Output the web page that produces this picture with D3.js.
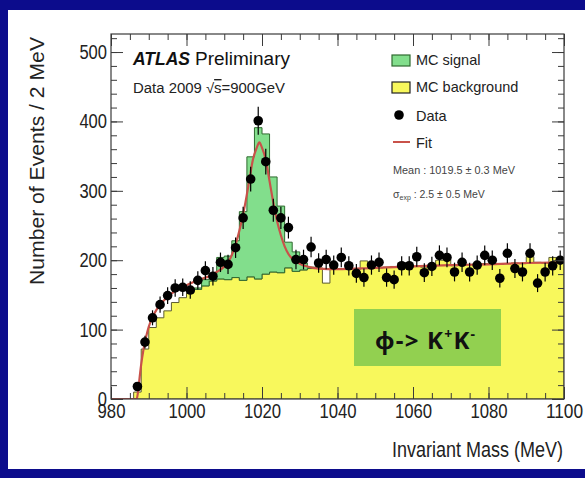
<!DOCTYPE html>
<html>
<head>
<meta charset="utf-8">
<script src="https://cdn.jsdelivr.net/npm/d3@7"></script>
<style>
  body { margin: 0; background: #fff; }
  svg { display: block; }
  text { font-family: "Liberation Sans", Arial, Helvetica, sans-serif; }
</style>
</head>
<body>
<svg id="chart" width="585" height="478"></svg>
<script>
// ---- histogram bins (2 MeV wide, bin centres in MeV) ----
const binCenters = [981, 983, 985, 987, 989, 991, 993, 995, 997, 999,
  1001, 1003, 1005, 1007, 1009, 1011, 1013, 1015, 1017, 1019,
  1021, 1023, 1025, 1027, 1029, 1031, 1033, 1035, 1037, 1039,
  1041, 1043, 1045, 1047, 1049, 1051, 1053, 1055, 1057, 1059,
  1061, 1063, 1065, 1067, 1069, 1071, 1073, 1075, 1077, 1079,
  1081, 1083, 1085, 1087, 1089, 1091, 1093, 1095, 1097, 1099];

// observed events per bin
const dataCounts = [0, 0, 0, 18, 82, 117, 136, 149, 160, 161,
  157, 171, 185, 177, 197, 194, 218, 261, 317, 401,
  342, 272, 261, 247, 201, 201, 219, 196, 201, 193,
  204, 192, 181, 175, 193, 197, 175, 172, 192, 192,
  205, 182, 191, 207, 204, 183, 197, 183, 193, 207,
  200, 174, 210, 188, 183, 210, 167, 183, 192, 200];

// MC background per bin
const bkgCounts = [0, 0, 0, 10, 72, 103, 117, 127, 139, 146,
  153, 158, 163, 170, 173, 172, 175, 171, 176, 173,
  180, 183, 182, 189, 184, 186, 188, 189, 167, 190,
  188, 189, 186, 199, 188, 189, 190, 191, 196, 194,
  191, 190, 193, 200, 201, 192, 193, 194, 191, 195,
  195, 194, 195, 196, 195, 205, 197, 196, 204, 203];

// MC signal per bin (stacked on the background)
const sigCounts = [0, 0, 0, 0, 0, 0, 0, 0, 0, 0,
  0, 2, 9, 10, 31, 34, 53, 99, 173, 218,
  202, 137, 96, 37, 28, 10, 2, 0, 0, 0,
  0, 0, 0, 0, 0, 0, 0, 0, 0, 0,
  0, 0, 0, 0, 0, 0, 0, 0, 0, 0,
  0, 0, 0, 0, 0, 0, 0, 0, 0, 0];

// fitted curve (mass in MeV, events / 2 MeV)
const fitMass = [980, 986.8, 987.2, 987.6, 988, 988.5, 989, 989.5, 990, 991, 992, 993, 994,
  996, 998, 1000, 1002, 1004, 1006, 1008, 1009.6, 1010.6, 1011.6, 1012.6, 1013.6,
  1014.6, 1015.6, 1016.6, 1017.6, 1018.6, 1019.3, 1020, 1021, 1022, 1023, 1024,
  1025, 1026, 1027, 1028, 1030, 1032, 1035, 1040, 1050, 1060, 1070, 1080, 1090, 1100];
const fitValue = [0, 0, 12, 32, 50, 68, 82, 94, 104, 118, 128, 136, 142,
  152, 159, 164, 169, 173, 177, 183, 189, 195, 203, 216, 234,
  256, 283, 314, 345, 362, 370, 362, 345, 314, 283, 256,
  236, 220, 209, 202, 195, 191, 188, 187, 189, 191, 193, 194, 196, 197];

const xTicks = [980, 1000, 1020, 1040, 1060, 1080, 1100];
const yTicks = [0, 100, 200, 300, 400, 500];
const legendLabels = ["MC signal", "MC background", "Data", "Fit"];
const fitMean = [1019.5, 0.3];
const fitSigma = [2.5, 0.5];

const BIN_W = 2;
const COL = {
  frame: "#0c0c8c", axis: "#3a3a3a", bkg: "#f8f85c", bkgLine: "#5c5c30",
  sig: "#82de8c", sigLine: "#2f6a2f", fit: "#c9524a", box: "#92d050"
};

const svg = d3.select("#chart");

// slide frame
svg.append("rect").attr("width", 585).attr("height", 478).attr("fill", COL.frame);
svg.append("rect").attr("x", 8).attr("y", 10).attr("width", 577).attr("height", 459).attr("fill", "#fff");

const P = { left: 111, right: 564, top: 34, bottom: 399 };
const x = d3.scaleLinear().domain([980, 1100]).range([P.left, P.right]);
const y = d3.scaleLinear().domain([0, 526]).range([P.bottom, P.top]);

svg.append("defs").append("clipPath").attr("id", "plotClip")
  .append("rect").attr("x", P.left).attr("y", P.top)
  .attr("width", P.right - P.left).attr("height", P.bottom - P.top);

const bins = binCenters.map((c, i) => ({
  lo: c - BIN_W / 2, hi: c + BIN_W / 2, c,
  data: dataCounts[i], bkg: bkgCounts[i], sig: sigCounts[i]
}));

// step points: one per bin low edge plus a closing point at the last high edge
function steps(sub, top, base) {
  const pts = sub.map(b => ({ e: b.lo, t: top(b), b: base(b) }));
  const last = sub[sub.length - 1];
  pts.push({ e: last.hi, t: top(last), b: base(last) });
  return pts;
}

const g = svg.append("g").attr("clip-path", "url(#plotClip)");

// MC background
const stepArea = d3.area().x(d => x(d.e)).y0(d => y(d.b)).y1(d => y(d.t)).curve(d3.curveStepAfter);
g.append("path")
  .datum(steps(bins, b => b.bkg, () => 0))
  .attr("d", stepArea).attr("fill", COL.bkg)
  .attr("stroke", COL.bkgLine).attr("stroke-width", 1);

// MC signal stacked on top of background
const sigIdx = bins.map((b, i) => b.sig > 0 ? i : -1).filter(i => i >= 0);
const sigBins = bins.slice(d3.min(sigIdx), d3.max(sigIdx) + 1);
g.append("path")
  .datum(steps(sigBins, b => b.bkg + b.sig, b => b.bkg))
  .attr("d", stepArea).attr("fill", COL.sig)
  .attr("stroke", COL.sigLine).attr("stroke-width", 1);

// fit curve
const fitLine = d3.line().x(d => x(d[0])).y(d => y(d[1])).curve(d3.curveMonotoneX);
g.append("path")
  .datum(fitMass.map((m, i) => [m, fitValue[i]]))
  .attr("d", fitLine).attr("fill", "none")
  .attr("stroke", COL.fit).attr("stroke-width", 2.2);

// data points with statistical error bars
const pts = bins.filter(b => b.data > 0);
g.selectAll("line.err").data(pts).join("line").attr("class", "err")
  .attr("x1", d => x(d.c)).attr("x2", d => x(d.c))
  .attr("y1", d => y(d.data + Math.sqrt(d.data)))
  .attr("y2", d => y(d.data - Math.sqrt(d.data)))
  .attr("stroke", "#000").attr("stroke-width", 1.2);
g.selectAll("circle.pt").data(pts).join("circle").attr("class", "pt")
  .attr("cx", d => x(d.c)).attr("cy", d => y(d.data)).attr("r", 4.8).attr("fill", "#000");

// axes: ticks drawn inward on all four sides
const minorX = d3.range(980, 1101, 5);
const minorY = d3.range(0, 521, 20);
function styleAxis(sel) {
  sel.select(".domain").remove();
  sel.selectAll("line").attr("stroke", COL.axis);
}
svg.append("g").attr("transform", `translate(0,${P.bottom})`)
  .call(d3.axisBottom(x).tickValues(minorX).tickSize(-6).tickFormat(""))
  .call(styleAxis);
svg.append("g").attr("transform", `translate(0,${P.top})`)
  .call(d3.axisTop(x).tickValues(minorX).tickSize(-6).tickFormat(""))
  .call(styleAxis);
svg.append("g").attr("transform", `translate(0,${P.top})`)
  .call(d3.axisTop(x).tickValues(xTicks).tickSize(-12).tickFormat(""))
  .call(styleAxis);
svg.append("g").attr("transform", `translate(${P.left},0)`)
  .call(d3.axisLeft(y).tickValues(minorY).tickSize(-6).tickFormat(""))
  .call(styleAxis);
svg.append("g").attr("transform", `translate(${P.right},0)`)
  .call(d3.axisRight(y).tickValues(minorY).tickSize(-6).tickFormat(""))
  .call(styleAxis);
svg.append("g").attr("transform", `translate(${P.right},0)`)
  .call(d3.axisRight(y).tickValues(yTicks).tickSize(-12).tickFormat(""))
  .call(styleAxis);

const xAxis = svg.append("g").attr("transform", `translate(0,${P.bottom})`)
  .call(d3.axisBottom(x).tickValues(xTicks).tickSize(-12).tickPadding(4).tickFormat(d3.format("d")))
  .call(styleAxis);
xAxis.selectAll("text")
  .attr("font-size", 21).attr("fill", "#222")
  .style("font-family", '"Liberation Sans", Arial, sans-serif')
  .attr("textLength", d => String(d).length * 9.3).attr("lengthAdjust", "spacingAndGlyphs");

const yAxis = svg.append("g").attr("transform", `translate(${P.left},0)`)
  .call(d3.axisLeft(y).tickValues(yTicks).tickSize(-12).tickPadding(4).tickFormat(d3.format("d")))
  .call(styleAxis);
yAxis.selectAll("text")
  .attr("font-size", 20).attr("fill", "#222")
  .style("font-family", '"Liberation Sans", Arial, sans-serif')
  .attr("textLength", d => String(d).length * 9.2).attr("lengthAdjust", "spacingAndGlyphs");

// plot frame
svg.append("rect").attr("x", P.left).attr("y", P.top)
  .attr("width", P.right - P.left).attr("height", P.bottom - P.top)
  .attr("fill", "none").attr("stroke", COL.axis).attr("stroke-width", 1.2);

// axis titles (tall, narrow lettering)
svg.append("text").attr("transform", "translate(392,457) scale(1,1.2)")
  .attr("font-size", 18).attr("fill", "#222")
  .attr("textLength", 171).attr("lengthAdjust", "spacingAndGlyphs")
  .text("Invariant Mass (MeV)");
svg.append("text").attr("transform", "translate(44,285) rotate(-90)")
  .attr("font-size", 21).attr("fill", "#222")
  .attr("textLength", 248).attr("lengthAdjust", "spacingAndGlyphs")
  .text("Number of Events / 2 MeV");

// experiment label
const atlas = svg.append("text").attr("x", 133).attr("y", 65).attr("font-size", 17.5).attr("fill", "#111");
atlas.append("tspan").attr("font-weight", "bold").attr("font-style", "italic").text("ATLAS");
atlas.append("tspan").attr("x", 195).attr("font-size", 18)
  .attr("textLength", 95).attr("lengthAdjust", "spacingAndGlyphs").text("Preliminary");
const runTxt = svg.append("text").attr("x", 133).attr("y", 93).attr("font-size", 14).attr("fill", "#222")
  .attr("textLength", 152).attr("lengthAdjust", "spacingAndGlyphs");
runTxt.append("tspan").text("Data 2009 \u221A");
runTxt.append("tspan").attr("text-decoration", "overline").text("s");
runTxt.append("tspan").text("=900GeV");

// legend
const LX = 392;
svg.append("rect").attr("x", LX).attr("y", 55).attr("width", 18).attr("height", 11)
  .attr("fill", COL.sig).attr("stroke", COL.sigLine).attr("stroke-width", 1.2);
svg.append("rect").attr("x", LX).attr("y", 82).attr("width", 18).attr("height", 11)
  .attr("fill", COL.bkg).attr("stroke", "#222").attr("stroke-width", 1.2);
svg.append("circle").attr("cx", LX + 7).attr("cy", 115).attr("r", 4.8).attr("fill", "#000");
svg.append("line").attr("x1", LX + 1).attr("x2", LX + 18).attr("y1", 142).attr("y2", 142)
  .attr("stroke", COL.fit).attr("stroke-width", 2);
const legY = [65, 92, 121, 148];
legendLabels.forEach((t, i) => {
  svg.append("text").attr("x", 416).attr("y", legY[i]).attr("font-size", 14.5).attr("fill", "#222").text(t);
});

// fit results
svg.append("text").attr("x", 393).attr("y", 174).attr("font-size", 10.5).attr("fill", "#444")
  .attr("textLength", 122).attr("lengthAdjust", "spacingAndGlyphs")
  .text(`Mean : ${fitMean[0]} \u00B1  ${fitMean[1]} MeV`);
const sTxt = svg.append("text").attr("x", 393).attr("y", 198).attr("font-size", 10.5).attr("fill", "#444");
sTxt.append("tspan").text("\u03C3");
sTxt.append("tspan").attr("font-size", 7).attr("dy", 2).text("exp");
sTxt.append("tspan").attr("dy", -2).text(` : ${fitSigma[0]} \u00B1  ${fitSigma[1]} MeV`);

// decay channel tag
svg.append("rect").attr("x", 354).attr("y", 309).attr("width", 147).attr("height", 57).attr("fill", COL.box);
const tag = svg.append("text").attr("x", 375).attr("y", 349)
  .style("font-family", '"Noto Sans", "DejaVu Sans", sans-serif')
  .attr("font-size", 24).attr("font-weight", "bold").attr("fill", "#111")
  .attr("textLength", 100).attr("lengthAdjust", "spacing");
tag.append("tspan").text("\u03D5-> K");
tag.append("tspan").attr("font-size", 14).attr("dy", -10).text("+");
tag.append("tspan").attr("dy", 10).text("K");
tag.append("tspan").attr("font-size", 14).attr("dy", -10).text("-");
</script>
</body>
</html>
